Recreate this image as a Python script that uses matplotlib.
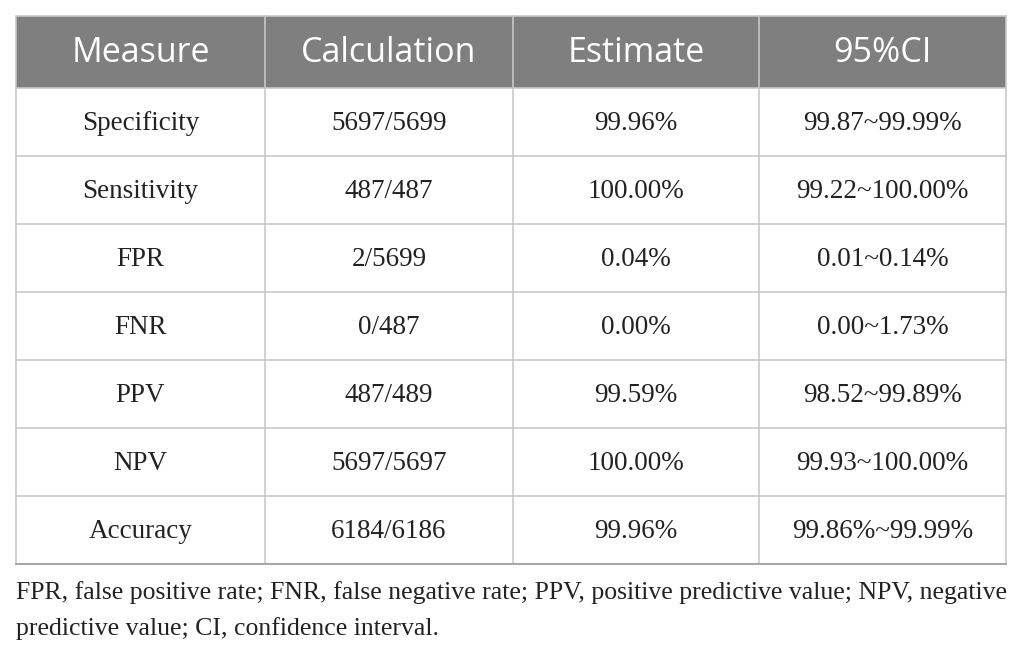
import matplotlib.pyplot as plt
from matplotlib.patches import Rectangle

headers = ["Measure", "Calculation", "Estimate", "95%CI"]
measures = ["Specificity", "Sensitivity", "FPR", "FNR", "PPV", "NPV", "Accuracy"]
calculations = ["5697/5699", "487/487", "2/5699", "0/487", "487/489", "5697/5697", "6184/6186"]
estimates = ["99.96%", "100.00%", "0.04%", "0.00%", "99.59%", "100.00%", "99.96%"]
cis = ["99.87~99.99%", "99.22~100.00%", "0.01~0.14%", "0.00~1.73%",
       "98.52~99.89%", "99.93~100.00%", "99.86%~99.99%"]
footnote = ["FPR, false positive rate; FNR, false negative rate; PPV, positive predictive value; NPV, negative",
            "predictive value; CI, confidence interval."]

W, H = 1026, 657
fig = plt.figure(figsize=(W / 100, H / 100), dpi=100)
ax = fig.add_axes([0, 0, 1, 1])
ax.set_xlim(0, W)
ax.set_ylim(H, 0)
ax.axis("off")

# layout in pixels
left, right = 16, 1006
top, head_h, row_h = 16, 72, 68
col_edges = [left, 265, 513, 759, right]
grid = "#c8c8c8"
n = len(measures)
bottom = top + head_h + n * row_h

ax.add_patch(Rectangle((left, top), right - left, head_h, color="#7f7f7f", lw=0))

for i, h in enumerate(headers):
    cx = (col_edges[i] + col_edges[i + 1]) / 2
    ax.text(cx, top + head_h / 2 + 1, h, ha="center", va="center", color="white",
            fontsize=24.5, family="Open Sans")

columns = [measures, calculations, estimates, cis]
for r in range(n):
    cy = top + head_h + r * row_h + row_h / 2 + 2
    for c, col in enumerate(columns):
        cx = (col_edges[c] + col_edges[c + 1]) / 2
        ax.text(cx, cy, col[r], ha="center", va="center", color="#222222",
                fontsize=19.5, family="Liberation Serif")

# grid lines
for x in col_edges:
    ax.plot([x, x], [top, bottom], color=grid, lw=1.2)
for r in range(n + 1):
    y = top + head_h + r * row_h
    ax.plot([left, right], [y, y], color=grid, lw=1.2)
ax.plot([left, right], [top, top], color=grid, lw=1.2)
ax.plot([left, right], [bottom, bottom], color="#a8a8a8", lw=1.5)

for k, line in enumerate(footnote):
    ax.text(left, 593 + k * 36, line, ha="left", va="center", color="#222222",
            fontsize=18.5, family="Liberation Serif")

fig.savefig("out.png", dpi=100)
